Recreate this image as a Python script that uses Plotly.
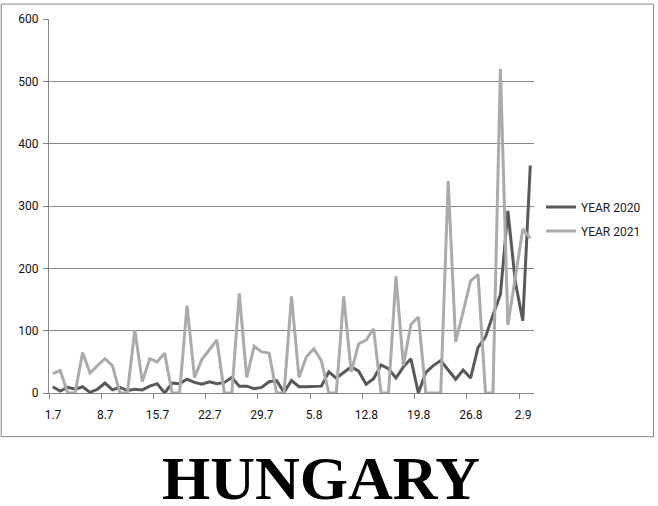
import plotly.graph_objects as go

# Categories: one per day, 1 July .. 3 September
dates = ([f"{d}.7" for d in range(1, 32)] + [f"{d}.8" for d in range(1, 32)]
         + [f"{d}.9" for d in range(1, 4)])

year_2020 = [10, 3, 9, 6, 10, 1, 6, 16, 5, 9,
             4, 6, 5, 11, 15, 0, 16, 15, 22, 17,
             14, 18, 15, 17, 25, 11, 11, 7, 9, 18,
             20, 1, 20, 10, 10, 10, 11, 34, 24, 33,
             42, 35, 14, 23, 45, 39, 24, 42, 55, 0,
             33, 44, 52, 37, 22, 37, 24, 73, 90, 125,
             158, 292, 178, 116, 365]

year_2021 = [31, 36, 0, 0, 65, 32, 44, 55, 44, 0,
             0, 101, 18, 55, 50, 64, 0, 0, 140, 25,
             54, 69, 85, 0, 0, 160, 25, 75, 66, 64,
             0, 0, 155, 25, 58, 71, 52, 0, 0, 155,
             34, 79, 85, 103, 0, 0, 187, 44, 110, 122,
             0, 0, 0, 340, 82, 130, 180, 190, 0, 0,
             520, 109, 185, 263, 248]

tick_labels = ["1.7", "8.7", "15.7", "22.7", "29.7", "5.8", "12.8", "19.8", "26.8", "2.9"]
y_ticks = [0, 100, 200, 300, 400, 500, 600]
title_text = "HUNGARY"

x = list(range(len(dates)))
# ticks sit on category boundaries (left edge of the labelled day)
tick_pos = [dates.index(t) - 0.5 for t in tick_labels]

GRID = "#868686"
FONT = "Roboto, Liberation Sans, Arial, sans-serif"

fig = go.Figure()
fig.add_trace(go.Scatter(x=x, y=year_2020, mode="lines", name="YEAR 2020",
                         legendgroup="g2020",
                         line=dict(color="#595959", width=3),
                         hovertext=dates))
fig.add_trace(go.Scatter(x=x, y=year_2021, mode="lines", name="YEAR 2021",
                         legendgroup="g2021",
                         line=dict(color="#ABABAB", width=3),
                         hovertext=dates))

fig.update_layout(
    width=658, height=506,
    margin=dict(l=49, r=122, t=16, b=113, pad=0),
    paper_bgcolor="white", plot_bgcolor="white",
    font=dict(family=FONT, size=12, color="#111111"),
    showlegend=True,
    legend=dict(x=1.0144, xanchor="left", y=0.5358, yanchor="top",
                bgcolor="rgba(0,0,0,0)", borderwidth=0,
                font=dict(family=FONT, size=12, color="#222222"),
                tracegroupgap=5),
    xaxis=dict(range=[-0.5, len(dates) - 0.5], tickmode="array",
               tickvals=tick_pos, ticktext=tick_labels,
               ticks="outside", ticklen=5, tickcolor=GRID, tickwidth=1,
               showgrid=False, zeroline=False,
               showline=True, linecolor=GRID, linewidth=1,
               ticklabelshift=4, ticklabelstandoff=6,
               tickfont=dict(family=FONT, size=12, color="#111111")),
    yaxis=dict(range=[0, 600], tickmode="array", tickvals=y_ticks,
               showgrid=True, gridcolor=GRID, gridwidth=1, zeroline=False,
               showline=True, linecolor=GRID, linewidth=1,
               ticks="outside", ticklen=5, tickcolor=GRID, tickwidth=1,
               ticklabelstandoff=2,
               tickfont=dict(family=FONT, size=12, color="#111111")),
    shapes=[dict(type="rect", xref="paper", yref="paper",
                 x0=(1 - 49) / 487, x1=(656 - 49) / 487,
                 y0=(393 - 437) / 377, y1=(393 - 1) / 377,
                 line=dict(color=GRID, width=1), fillcolor="rgba(0,0,0,0)",
                 layer="below")],
    annotations=[dict(text=f"<b>{title_text}</b>", xref="paper", yref="paper",
                      x=(322 - 49) / 487, y=(393 - 479) / 377,
                      xanchor="center", yanchor="middle", showarrow=False,
                      font=dict(family="Liberation Serif, Times New Roman, serif",
                                size=62, color="black"))],
)

fig.write_html(
    "out.html",
    config={"displayModeBar": False},
    post_script="document.body.style.margin='0';document.body.style.padding='0';",
)
